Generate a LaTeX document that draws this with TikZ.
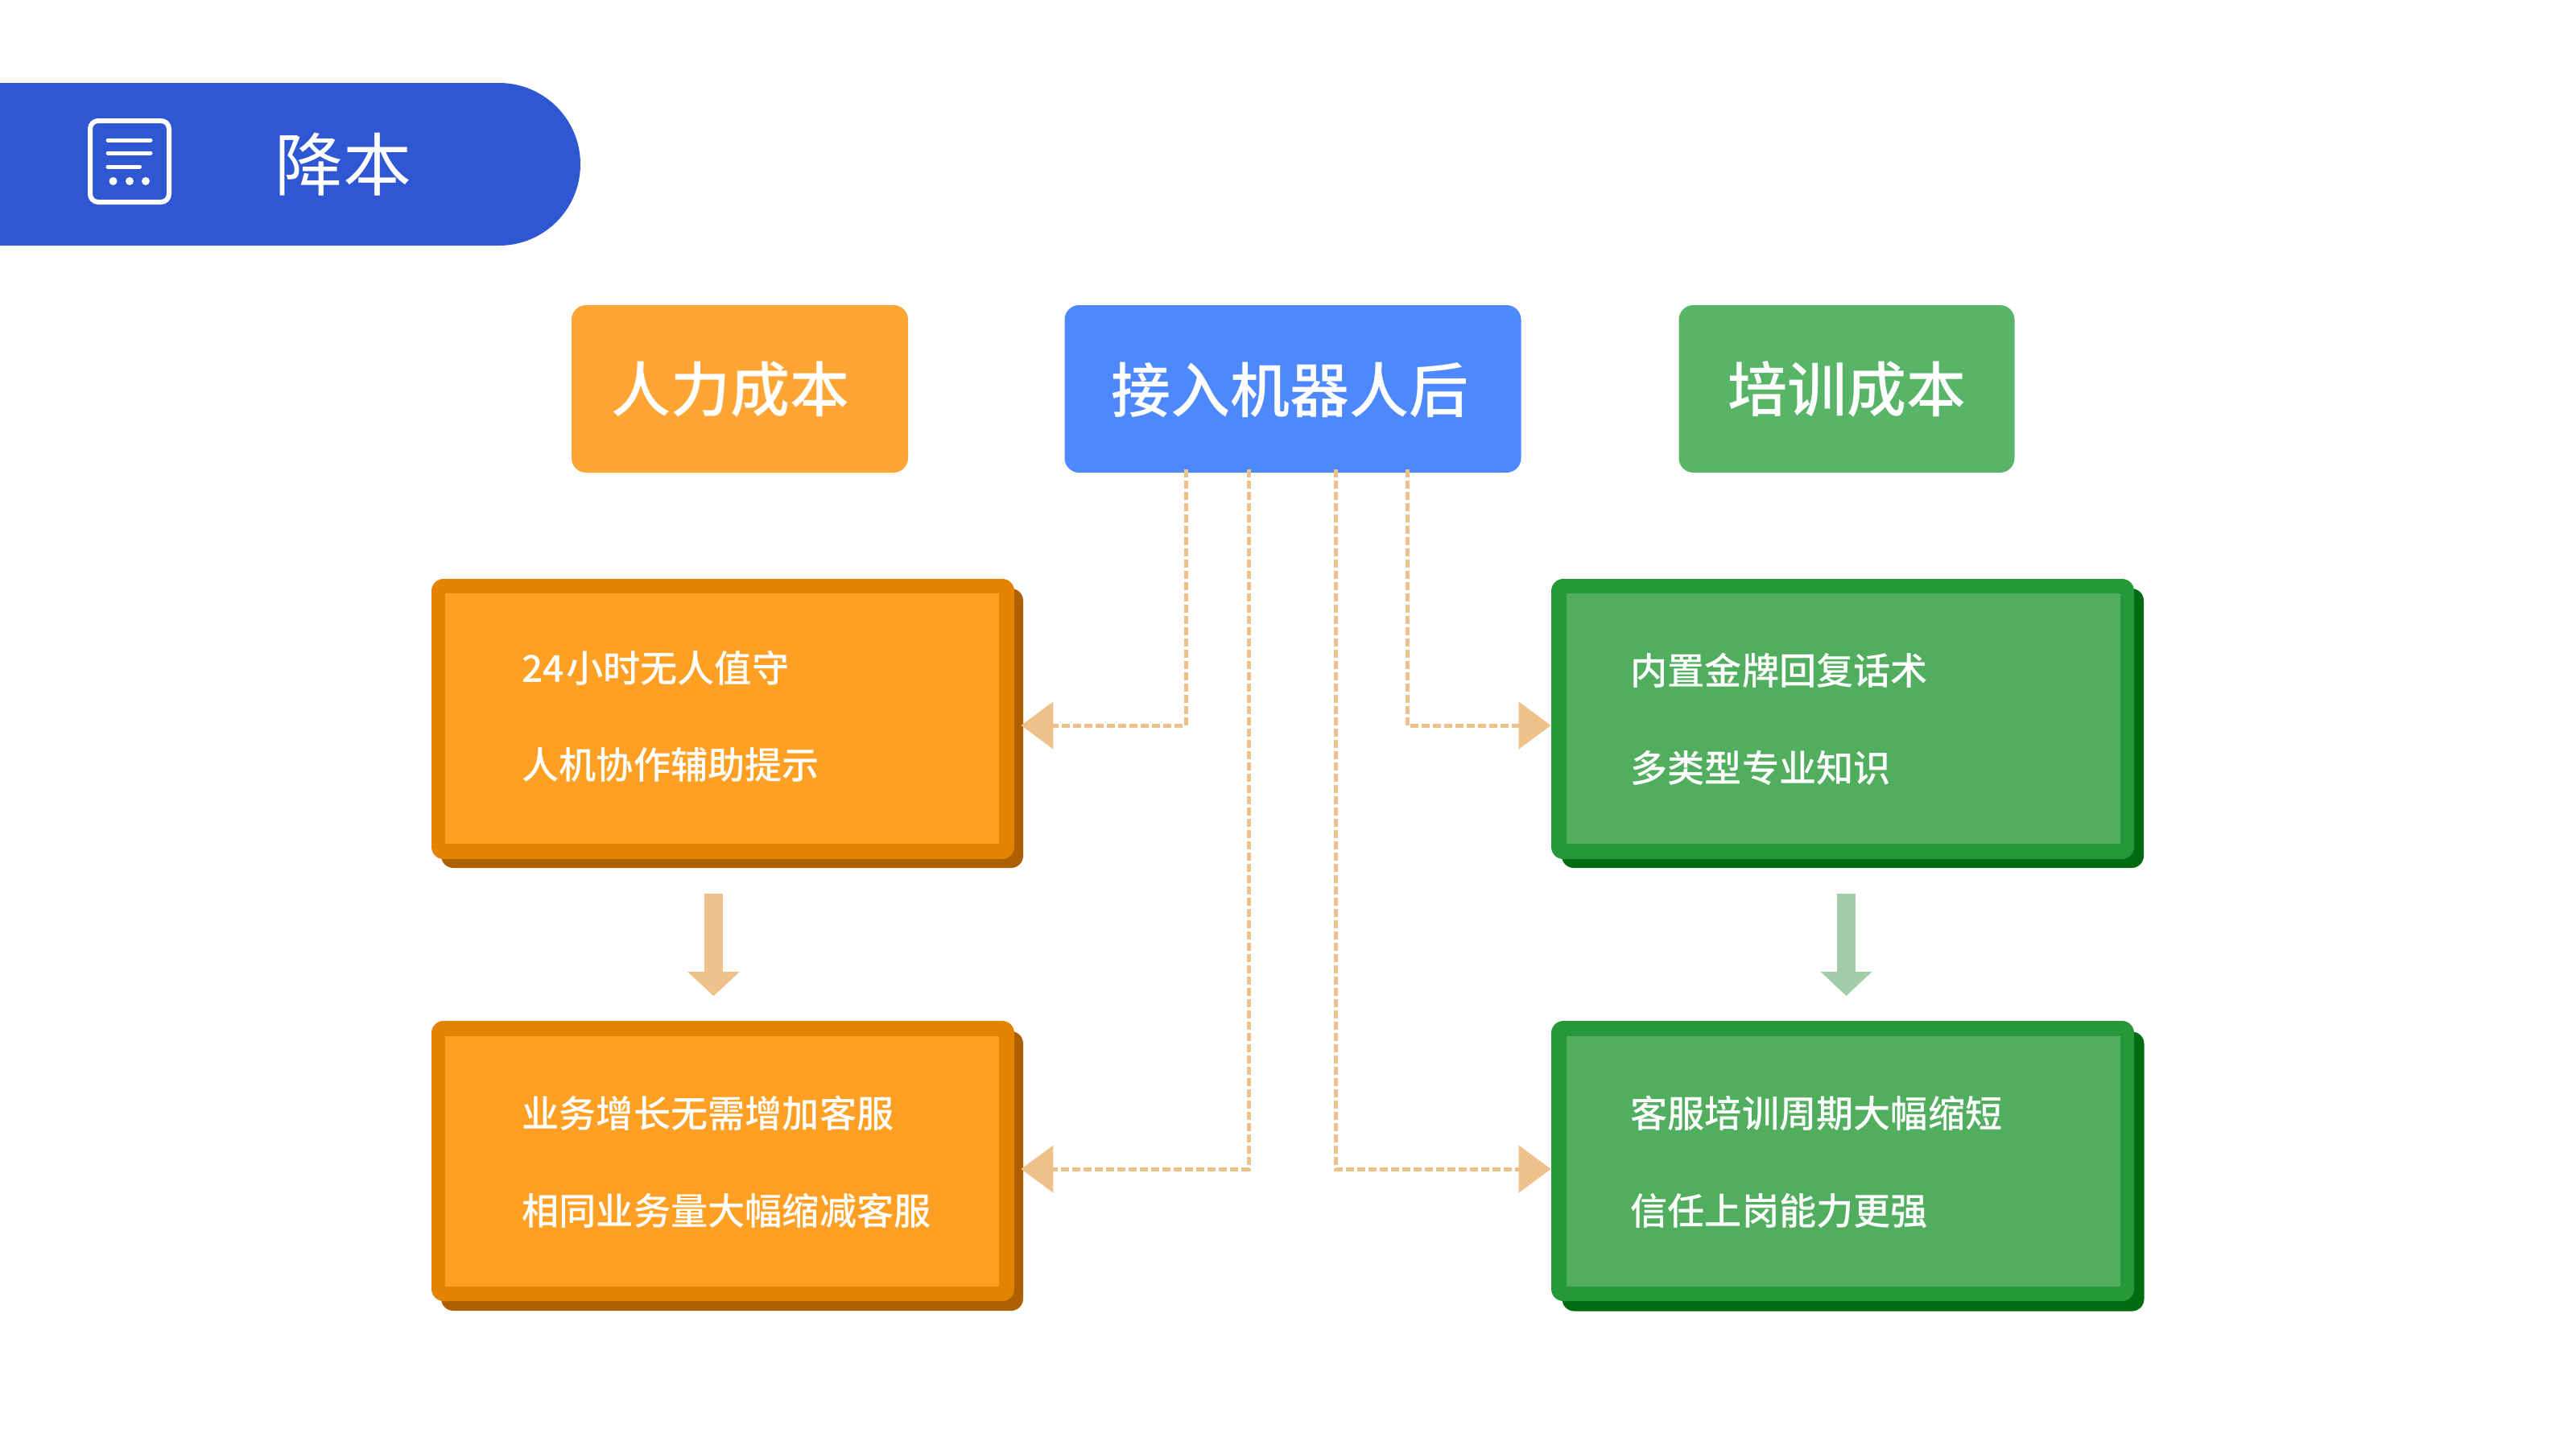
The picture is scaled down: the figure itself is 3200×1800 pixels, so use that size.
\documentclass[tikz,border=0pt]{standalone}
\usepackage{fontspec}
\setmainfont{Noto Sans CJK SC Medium}
\newfontfamily\regularcjk{Noto Sans CJK SC}
\usetikzlibrary{arrows.meta}
\definecolor{banner}{HTML}{2F57D3}
\definecolor{hdorange}{HTML}{FFA533}
\definecolor{hdblue}{HTML}{4D88FF}
\definecolor{hdgreen}{HTML}{58B466}
\definecolor{ofill}{HTML}{FF9F24}
\definecolor{oedge}{HTML}{E38300}
\definecolor{oshadow}{HTML}{AD6000}
\definecolor{gfill}{HTML}{52AE5F}
\definecolor{gedge}{HTML}{27983A}
\definecolor{gshadow}{HTML}{006B10}
\definecolor{arrorange}{HTML}{EEC08A}
\definecolor{arrgreen}{HTML}{A3CDA9}
\tikzset{
  header/.style={rounded corners=9pt,inner sep=0pt,minimum width=#1,minimum height=104pt},
  shadowbox/.style={rounded corners=7.5pt,inner sep=0pt,minimum width=361.5pt,minimum height=173.5pt},
  edgebox/.style={rounded corners=7.5pt,inner sep=0pt,minimum width=362pt,minimum height=174pt},
  innerbox/.style={inner sep=0pt,minimum width=344pt,minimum height=155.5pt},
  headtext/.style={inner sep=0pt,text=white,font=\fontsize{37}{40}\selectfont},
  linetext/.style={inner sep=0pt,anchor=west,text=white,font=\fontsize{23.1}{26}\selectfont},
  dashlink/.style={draw=arrorange,line width=2.5pt,dash pattern=on 4.75pt off 2.25pt,
    -{Triangle[length=20pt,width=29pt,color=arrorange]}},
  orangedown/.style={draw=arrorange,line width=11.5pt,-{Triangle[length=15pt,width=31.5pt,color=arrorange]}},
  greendown/.style={draw=arrgreen,line width=11.5pt,-{Triangle[length=15pt,width=31pt,color=arrgreen]}},
}
\begin{document}
\begin{tikzpicture}[x=0.5pt,y=-0.5pt]
\useasboundingbox (0,0) rectangle (3200,1800);
% banner
\fill[banner] (0,103) -- (620,103) arc[start angle=90,end angle=-90,radius=50.5pt] -- (0,305) -- cycle;
\node[draw=white,line width=3pt,rounded corners=5pt,inner sep=0pt,minimum width=49pt,minimum height=50.5pt] (icon) at (161,200.5) {};
\draw[white,line width=2.5pt,line cap=round] (134,174) -- (187,174) (134,190) -- (187,190) (134,207) -- (173.5,207);
\foreach \x in {140.5,161,181}{\fill[white] (\x,225) circle[radius=2.5pt];}
\node[inner sep=0pt,text=white,font=\regularcjk\fontsize{42.5}{45}\selectfont] (title) at (426,204) {降本};
% headers
\node[header=209pt,fill=hdorange] (hleft) at (919,483) {};
\node[header=283.5pt,fill=hdblue] (hub) at (1606,483) {};
\node[header=208.5pt,fill=hdgreen] (hright) at (2294,483) {};
\node[headtext] (tleft) at (907,484) {人力成本};
\node[headtext] (thub) at (1602,484) {接入机器人后};
\node[headtext] (tright) at (2294,484) {培训成本};
% orange boxes
\node[shadowbox,fill=oshadow] (osa) at (909.5,904.5) {};
\node[edgebox,fill=oedge] (oea) at (898,893) {};
\node[innerbox,fill=ofill] (oia) at (897,892.5) {};
\node[shadowbox,fill=oshadow] (osb) at (909.5,1454.5) {};
\node[edgebox,fill=oedge] (oeb) at (898,1442) {};
\node[innerbox,fill=ofill] (oib) at (897,1442.5) {};
% green boxes
\node[shadowbox,fill=gshadow] (gsa) at (2301.5,904.5) {};
\node[edgebox,fill=gedge] (gea) at (2289,893) {};
\node[innerbox,fill=gfill] (gia) at (2289.5,892.5) {};
\node[shadowbox,fill=gshadow] (gsb) at (2302,1455) {};
\node[edgebox,fill=gedge] (geb) at (2289,1442) {};
\node[innerbox,fill=gfill] (gib) at (2289.5,1442.5) {};
% texts
\node[linetext] (a1) at (648,830) {24\kern1pt 小时无人值守};
\node[linetext] (a2) at (648,950) {人机协作辅助提示};
\node[linetext] (b1) at (648,1383) {业务增长无需增加客服};
\node[linetext] (b2) at (648,1504) {相同业务量大幅缩减客服};
\node[linetext] (c1) at (2025,833) {内置金牌回复话术};
\node[linetext] (c2) at (2025,954) {多类型专业知识};
\node[linetext] (d1) at (2025,1383) {客服培训周期大幅缩短};
\node[linetext] (d2) at (2025,1504) {信任上岗能力更强};
% connectors
\coordinate (la) at (1473,0);
\coordinate (lb) at (1551,0);
\coordinate (lc) at (1659,0);
\coordinate (ld) at (1748,0);
\draw[dashlink] ([yshift=2pt]hub.south -| la) |- ([xshift=-1.5pt]osa.east |- 0,901);
\draw[dashlink] ([yshift=2pt]hub.south -| lb) |- ([xshift=-1.5pt]osb.east |- 0,1452);
\draw[dashlink] ([yshift=2pt]hub.south -| lc) |- (geb.west |- 0,1452);
\draw[dashlink] ([yshift=2pt]hub.south -| ld) |- (gea.west |- 0,901);
% down arrows
\coordinate (oda) at (886.5,1110);
\coordinate (odb) at (886.5,1237);
\coordinate (gda) at (2293.5,1110);
\coordinate (gdb) at (2293.5,1237);
\draw[orangedown] (oda) -- (odb);
\draw[greendown] (gda) -- (gdb);
\end{tikzpicture}
\end{document}
